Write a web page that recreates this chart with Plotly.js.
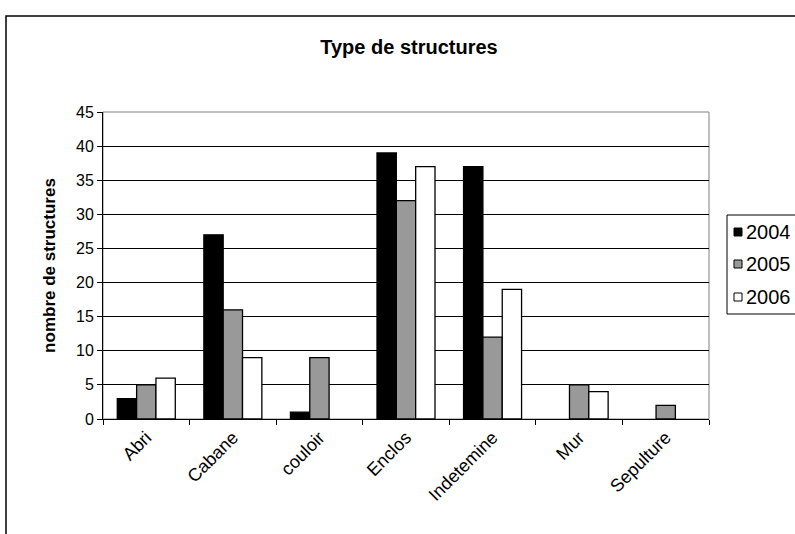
<!DOCTYPE html>
<html>
<head>
<meta charset="utf-8">
<script src="https://cdn.plot.ly/plotly-3.0.1.min.js"></script>
<style>html,body{margin:0;padding:0;background:#fff;} #chart{width:795px;height:534px;}</style>
</head>
<body>
<div id="chart"></div>
<script>
const categories = ["Abri", "Cabane", "couloir", "Enclos", "Indetemine", "Mur", "Sepulture"];
const seriesNames = ["2004", "2005", "2006"];
const values2004 = [3, 27, 1, 39, 37, 0, 0];
const values2005 = [5, 16, 9, 32, 12, 5, 2];
const values2006 = [6, 9, 0, 37, 19, 4, 0];
const yTicks = [0, 5, 10, 15, 20, 25, 30, 35, 40, 45];

const colors = ["#000000", "#999999", "#ffffff"];
const allValues = [values2004, values2005, values2006];

const W = 795, H = 534;
const M = {l: 103, r: 86, t: 112, b: 115};
const PW = W - M.l - M.r, PH = H - M.t - M.b;
const px = x => (x - M.l) / PW;
const py = y => (H - M.b - y) / PH;

const traces = allValues.map((vals, i) => ({
  type: "bar",
  name: seriesNames[i],
  x: categories,
  y: vals,
  marker: {color: colors[i], line: {color: "#000000", width: vals.map(v => v === 0 ? 0 : 1.3)}},
  hoverinfo: "x+y+name",
  showlegend: false
}));

// manual legend (box, swatches, labels)
const legendRows = [232, 264, 297];
const shapes = [
  {type: "rect", xref: "paper", yref: "paper", x0: 0, x1: 1, y0: 0, y1: 1,
   line: {color: "#808080", width: 1}, layer: "below"},
  {type: "rect", xref: "paper", yref: "paper",
   x0: px(6), x1: px(900), y0: py(700), y1: py(16),
   line: {color: "#000", width: 1.5}},
  {type: "rect", xref: "paper", yref: "paper",
   x0: px(727), x1: px(900), y0: py(314), y1: py(215),
   line: {color: "#000", width: 1}, fillcolor: "#fff"}
];
const annotations = [];
seriesNames.forEach((name, i) => {
  shapes.push({type: "rect", xref: "paper", yref: "paper",
    x0: px(734), x1: px(742), y0: py(legendRows[i] + 4), y1: py(legendRows[i] - 4),
    line: {color: "#000", width: 1}, fillcolor: colors[i]});
  annotations.push({xref: "paper", yref: "paper", x: px(744), y: py(legendRows[i]),
    xanchor: "left", yanchor: "middle", text: name, showarrow: false,
    font: {size: 20, color: "#000"}});
});

const layout = {
  width: W,
  height: H,
  margin: {l: M.l, r: M.r, t: M.t, b: M.b, autoexpand: false},
  paper_bgcolor: "#ffffff",
  plot_bgcolor: "#ffffff",
  font: {family: "Liberation Sans, Arial, sans-serif", size: 16, color: "#000"},
  title: {
    text: "<b>Type de structures</b>",
    font: {size: 20, color: "#000"},
    x: 409 / W, xref: "container", xanchor: "center",
    y: 1 - 47 / H, yref: "container", yanchor: "middle"
  },
  barmode: "group",
  bargap: 0.33,
  bargroupgap: 0,
  xaxis: {
    type: "category",
    tickangle: -45,
    tickson: "boundaries",
    ticks: "outside",
    ticklen: 5,
    tickcolor: "#000",
    showline: true,
    linecolor: "#000",
    linewidth: 1,
    showgrid: false,
    tickfont: {size: 18},
    automargin: false
  },
  yaxis: {
    range: [0, 45],
    tickvals: yTicks,
    ticks: "outside",
    ticklen: 5,
    tickcolor: "#000",
    showline: true,
    linecolor: "#000",
    linewidth: 1,
    showgrid: true,
    gridcolor: "#000",
    gridwidth: 1,
    zeroline: false,
    tickfont: {size: 16},
    title: {text: "<b>nombre de structures</b>", font: {size: 17}, standoff: 16},
    automargin: false
  },
  shapes: shapes,
  annotations: annotations,
  showlegend: false
};

Plotly.newPlot("chart", traces, layout, {displayModeBar: false, staticPlot: true});
</script>
</body>
</html>
